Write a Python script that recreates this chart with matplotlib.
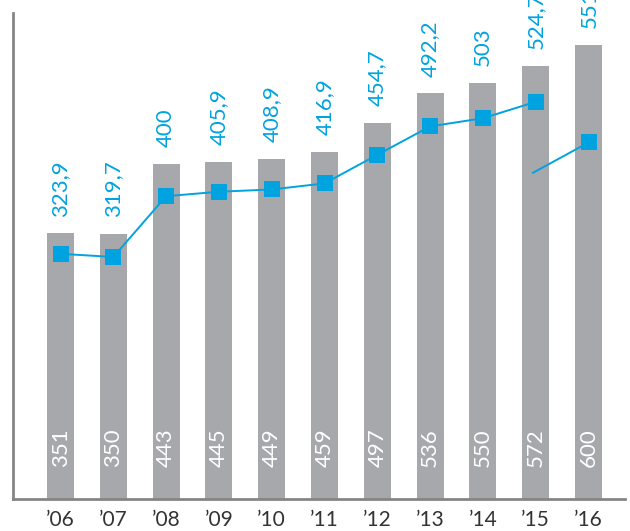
import matplotlib
matplotlib.use("Agg")
import matplotlib.pyplot as plt

years = ["’06", "’07", "’08", "’09", "’10", "’11", "’12", "’13", "’14", "’15", "’16"]
bar_values = [351, 350, 443, 445, 449, 459, 497, 536, 550, 572, 600]
line_values = [323.9, 319.7, 400, 405.9, 408.9, 416.9, 454.7, 492.2, 503, 524.7]
line_labels = ["323,9", "319,7", "400", "405,9", "408,9", "416,9", "454,7", "492,2", "503", "524,7", "551,8"]
last_segment = [431, 471]  # separate segment from '15 to '16

BAR_C = "#a7a8ac"
BLUE = "#00a3e0"
SPINE = "#858585"
FONT = "Lato"
W = "normal"

fig = plt.figure(figsize=(6.3, 5.31), dpi=100)
ax = fig.add_axes([13/630, 32/531, 612/630, 486/531])
x = list(range(len(years)))

ax.bar(x, bar_values, width=0.51, color=BAR_C, zorder=1)
ax.plot(x[:len(line_values)], line_values, color=BLUE, lw=1.4, marker="s",
        markersize=11.5, markeredgewidth=0, zorder=3)
ax.plot([x[-2] - 0.05, x[-1]], last_segment, color=BLUE, lw=1.4, zorder=3)
ax.plot([x[-1]], [last_segment[-1]], color=BLUE, marker="s", markersize=11.5,
        markeredgewidth=0, zorder=3, lw=0)

for xi, v in zip(x, bar_values):
    ax.annotate(str(v), (xi, 0), xytext=(0, 23), textcoords="offset points",
                rotation=90, ha="center", va="bottom", color="white",
                fontsize=16, family=FONT, fontweight=W, zorder=4)

for xi, v, lab in zip(x, bar_values, line_labels):
    ax.annotate(lab, (xi, v), xytext=(0, 12), textcoords="offset points",
                rotation=90, ha="center", va="bottom", color=BLUE,
                fontsize=16, family=FONT, fontweight=W, zorder=4,
                annotation_clip=False)

ax.set_xlim(-0.9, 10.69)
ax.set_ylim(0, 642)
ax.set_xticks(x)
ax.set_xticklabels(years, fontsize=15, family=FONT, fontweight=W, color="#333333")
ax.tick_params(axis="x", length=0, pad=8)
ax.set_yticks([])
for s in ["top", "right"]:
    ax.spines[s].set_visible(False)
for s in ["left", "bottom"]:
    ax.spines[s].set_color(SPINE)
    ax.spines[s].set_linewidth(2)

fig.savefig("out.png", dpi=100)
